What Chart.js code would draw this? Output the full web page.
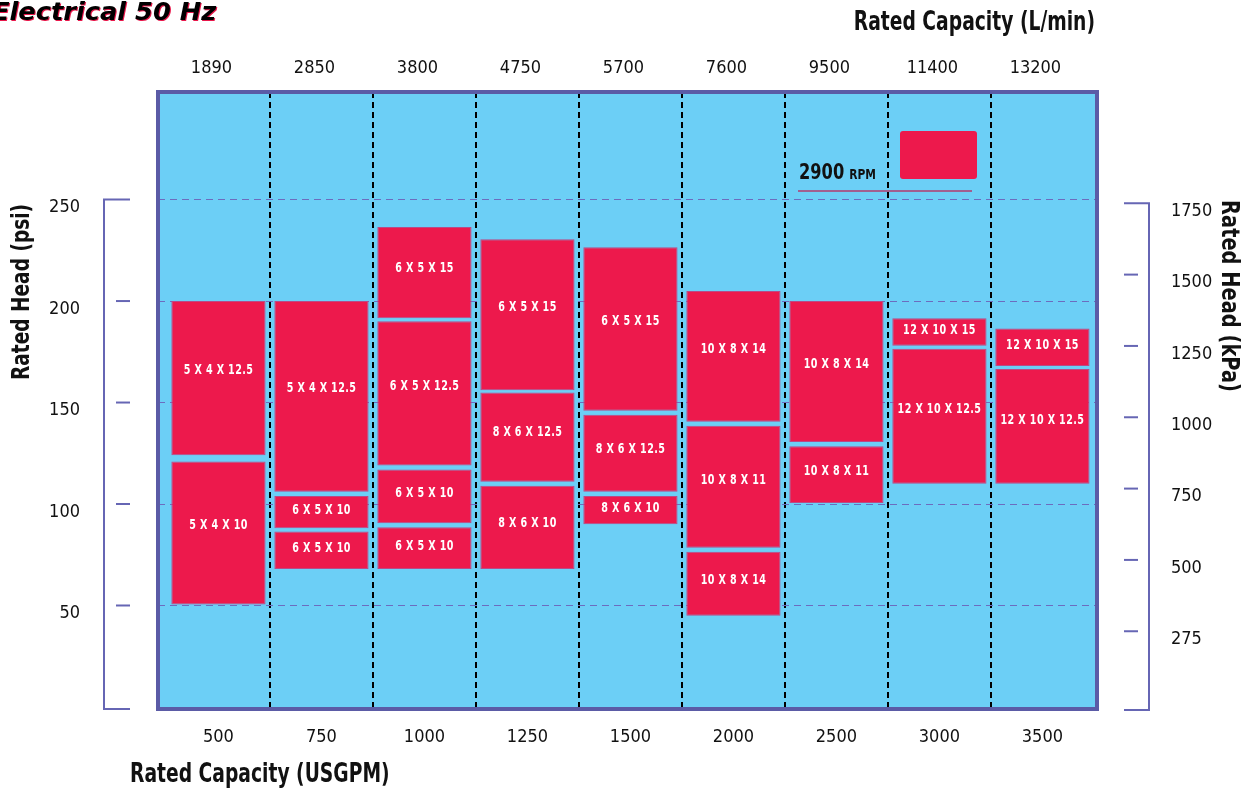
<!DOCTYPE html>
<html><head><meta charset="utf-8">
<script src="https://cdn.jsdelivr.net/npm/chart.js@4.4.1/dist/chart.umd.min.js"></script>
<style>html,body{margin:0;padding:0;background:#fff;}canvas{display:block;}</style>
</head><body>
<canvas id="c" width="1260" height="791"></canvas>
<script>
const usgpmLabels = ['500','750','1000','1250','1500','2000','2500','3000','3500'];
const lpmLabels = ['1890','2850','3800','4750','5700','7600','9500','11400','13200'];
const psiTicks = [50,100,150,200,250];
const kpaLabels = ['275','500','750','1000','1250','1500','1750'];

const tier1Low  = [124, 106, 191.5, 156, 146, 140.5, 130.5, 178, 168];
const tier1High = [200, 200, 236.5, 230.5, 226.5, 205, 200, 191.5, 186.5];
const tier1Names = ['5 X 4 X 12.5','5 X 4 X 12.5','6 X 5 X 15','6 X 5 X 15','6 X 5 X 15','10 X 8 X 14','10 X 8 X 14','12 X 10 X 15','12 X 10 X 15'];

const tier2Low  = [50.5, 88, 119, 111, 106, 78.5, 100.5, 110, 110];
const tier2High = [121, 104, 190, 155, 144, 138.5, 128.5, 176.5, 166.5];
const tier2Names = ['5 X 4 X 10','6 X 5 X 10','6 X 5 X 12.5','8 X 6 X 12.5','8 X 6 X 12.5','10 X 8 X 11','10 X 8 X 11','12 X 10 X 12.5','12 X 10 X 12.5'];

const tier3Low  = [null, 68, 90.5, 68, 90, 45, null, null, null];
const tier3High = [null, 86.5, 117, 109, 104, 76.5, null, null, null];
const tier3Names = [null,'6 X 5 X 10','6 X 5 X 10','8 X 6 X 10','8 X 6 X 10','10 X 8 X 14',null,null,null];

const tier4Low  = [null, null, 68, null, null, null, null, null, null];
const tier4High = [null, null, 88.5, null, null, null, null, null, null];
const tier4Names = [null,null,'6 X 5 X 10',null,null,null,null,null,null];

const legendLabel = '2900';
const legendUnit = 'RPM';

const BLUE = '#6ccff6', RED = '#ed194c', PURPLE = '#5b5ba6', BRACKET = '#6666b4';
const COND = "'DejaVu Sans Condensed','DejaVu Sans',sans-serif";

function tier(low, high, names) {
  const out = [];
  low.forEach((lo, i) => { if (lo !== null) out.push({x: i, y: [lo, high[i]], name: names[i]}); });
  return out;
}
function ds(data) {
  return {type:'bar', data, backgroundColor: RED, borderColor:'#b94a86', borderWidth:1,
          borderSkipped:false, grouped:false, barPercentage:0.915, categoryPercentage:1};
}
function sText(ctx, text, x, y, sx, align) {
  ctx.save();
  ctx.translate(x, y);
  ctx.scale(sx, 1);
  ctx.textAlign = align;
  ctx.fillText(text, 0, 0);
  ctx.restore();
}

const deco = {
  id:'deco',
  beforeDraw(chart){
    const {ctx, chartArea:a} = chart;
    ctx.save();
    ctx.fillStyle = '#fff'; ctx.fillRect(0,0,chart.width,chart.height);
    ctx.fillStyle = BLUE; ctx.fillRect(a.left, a.top, a.right-a.left, a.bottom-a.top);
    ctx.restore();
  },
  afterDatasetsDraw(chart){
    const ctx = chart.ctx;
    ctx.save();
    ctx.fillStyle = '#fff';
    ctx.font = "bold 14px " + COND;
    ctx.textBaseline = 'middle';
    try { ctx.letterSpacing = '0.5px'; } catch(e) {}
    chart.data.datasets.forEach((d, di) => {
      const meta = chart.getDatasetMeta(di);
      meta.data.forEach((el, j) => {
        const name = d.data[j].name;
        const h = Math.abs(el.base - el.y);
        const cy = (el.y + el.base)/2 - Math.min(8, h*0.05);
        sText(ctx, name, el.x, cy, 0.76, 'center');
      });
    });
    ctx.restore();
  },
  afterDraw(chart){
    const {ctx, chartArea:a} = chart;
    const y = chart.scales.y, y2 = chart.scales.y2;
    ctx.save();
    // frame
    ctx.strokeStyle = PURPLE; ctx.lineWidth = 4;
    ctx.strokeRect(a.left, a.top, a.right-a.left, a.bottom-a.top);
    // left bracket
    ctx.strokeStyle = BRACKET; ctx.lineWidth = 2;
    const lTop = y.getPixelForValue(psiTicks[psiTicks.length-1]);
    ctx.beginPath();
    ctx.moveTo(130, lTop); ctx.lineTo(104, lTop); ctx.lineTo(104, a.bottom); ctx.lineTo(130, a.bottom);
    ctx.stroke();
    psiTicks.slice(0,-1).forEach(v => {
      const p = y.getPixelForValue(v);
      ctx.beginPath(); ctx.moveTo(116, p); ctx.lineTo(130, p); ctx.stroke();
    });
    // right bracket
    const rTop = y2.getPixelForValue(kpaLabels.length-1);
    ctx.beginPath();
    ctx.moveTo(1124, rTop); ctx.lineTo(1149, rTop); ctx.lineTo(1149, a.bottom+1); ctx.lineTo(1124, a.bottom+1);
    ctx.stroke();
    kpaLabels.slice(0,-1).forEach((_, i) => {
      const p = y2.getPixelForValue(i);
      ctx.beginPath(); ctx.moveTo(1124, p); ctx.lineTo(1138, p); ctx.stroke();
    });
    // titles
    ctx.fillStyle = '#111';
    ctx.font = "bold 26px " + COND;
    ctx.textBaseline = 'middle';
    sText(ctx, 'Rated Capacity (L/min)', 1095, 23, 0.8, 'right');
    sText(ctx, 'Rated Capacity (USGPM)', 130, 775, 0.8, 'left');
    ctx.font = "bold 24px " + COND;
    ctx.save(); ctx.translate(23, 292); ctx.rotate(-Math.PI/2); sText(ctx, 'Rated Head (psi)', 0, 0, 0.86, 'center'); ctx.restore();
    ctx.save(); ctx.translate(1228, 296); ctx.rotate(Math.PI/2); sText(ctx, 'Rated Head (kPa)', 0, 0, 0.9, 'center'); ctx.restore();
    // header
    ctx.font = "italic bold 24px 'DejaVu Sans',sans-serif";
    ctx.fillStyle = '#e8174a'; sText(ctx, 'Electrical 50 Hz', -7, 15, 1.07, 'left');
    ctx.fillStyle = '#000'; sText(ctx, 'Electrical 50 Hz', -8, 14, 1.07, 'left');
    // legend
    ctx.fillStyle = RED;
    ctx.beginPath();
    if (ctx.roundRect) ctx.roundRect(900, 131, 77, 48, 3); else ctx.rect(900,131,77,48);
    ctx.fill();
    ctx.fillStyle = '#111';
    ctx.textBaseline = 'alphabetic';
    ctx.font = "bold 22px " + COND;
    sText(ctx, legendLabel, 799, 179, 0.82, 'left');
    const w = ctx.measureText(legendLabel).width * 0.82;
    ctx.font = "bold 14px " + COND;
    sText(ctx, legendUnit, 799 + w + 5, 179, 0.85, 'left');
    ctx.strokeStyle = '#b33a6e'; ctx.lineWidth = 1.5;
    ctx.beginPath(); ctx.moveTo(798, 191); ctx.lineTo(972, 191); ctx.stroke();
    ctx.restore();
  }
};

const xMin = -0.587, xMax = 8.53;
const tickFont = {family: COND, size: 18};
const noPad = s => { s.paddingTop = 0; s.paddingBottom = 0; s.paddingLeft = 0; s.paddingRight = 0; };

new Chart(document.getElementById('c'), {
  data: {
    datasets: [
      ds(tier(tier1Low, tier1High, tier1Names)),
      ds(tier(tier2Low, tier2High, tier2Names)),
      ds(tier(tier3Low, tier3High, tier3Names)),
      ds(tier(tier4Low, tier4High, tier4Names))
    ]
  },
  options: {
    responsive:false, animation:false, devicePixelRatio:1,
    layout:{padding:0},
    plugins:{legend:{display:false}, tooltip:{enabled:false}},
    scales:{
      x:{type:'linear', position:'bottom', min:xMin, max:xMax, offset:false,
         afterBuildTicks: s => { s.ticks = usgpmLabels.map((_, i) => ({value:i})); },
         afterFit: s => { s.height = 82; noPad(s); },
         ticks:{callback: v => usgpmLabels[v], font:tickFont, color:'#111', padding:10, maxRotation:0, autoSkip:false},
         grid:{display:false, offset:false}, border:{display:false}},
      xGrid:{type:'linear', position:'bottom', axis:'x', min:xMin, max:xMax, offset:false,
         afterBuildTicks: s => { s.ticks = usgpmLabels.slice(1).map((_, i) => ({value:i+0.5})); },
         afterFit: s => { s.height = 0; noPad(s); },
         ticks:{display:false},
         grid:{color:'#000', lineWidth:2, drawTicks:false},
         border:{display:false, dash:[6,4]}},
      xTop:{type:'linear', position:'top', axis:'x', min:xMin, max:xMax, offset:false,
         afterBuildTicks: s => { s.ticks = lpmLabels.map((_, i) => ({value:i})); },
         afterFit: s => { s.height = 92; noPad(s); },
         ticks:{callback: v => lpmLabels[v], font:tickFont, color:'#111', padding:5, labelOffset:-7, maxRotation:0, autoSkip:false},
         grid:{display:false}, border:{display:false}},
      y:{type:'linear', position:'left', min:-1, max:303,
         afterBuildTicks: s => { s.ticks = psiTicks.map(v => ({value:v})); },
         afterFit: s => { s.width = 158; noPad(s); },
         ticks:{font:tickFont, color:'#111', padding:78, labelOffset:8},
         grid:{color:'#6c6cbf', lineWidth:1, drawTicks:false},
         border:{display:false, dash:[7,5]}},
      y2:{type:'linear', position:'right', min:-1.09, max:7.56,
         afterBuildTicks: s => { s.ticks = kpaLabels.map((_, i) => ({value:i})); },
         afterFit: s => { s.width = 163; noPad(s); },
         ticks:{callback: v => kpaLabels[v], font:tickFont, color:'#111', padding:66, labelOffset:8},
         grid:{display:false}, border:{display:false}}
    }
  },
  plugins:[deco]
});
</script>
</body></html>
